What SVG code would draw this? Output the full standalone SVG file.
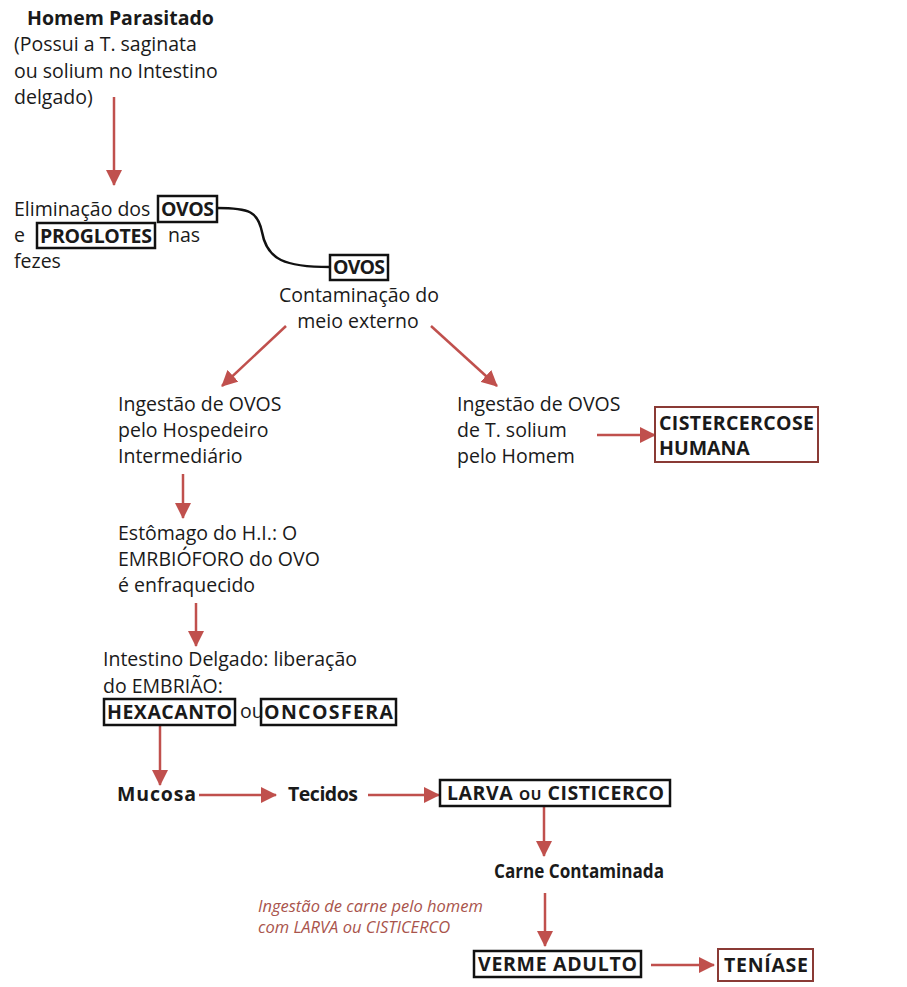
<svg xmlns="http://www.w3.org/2000/svg" width="907" height="987" viewBox="0 0 907 987">
<defs>
<style>
text{font-family:"Open Sans","Liberation Sans",sans-serif;font-size:19.5px;fill:#1a1a1a}
.b{font-weight:bold}
.box{fill:none;stroke:#111;stroke-width:2.5}
.rbox{fill:none;stroke:#8a3a35;stroke-width:2}
.arr{stroke:#c0504d;stroke-width:2.5;fill:none;marker-end:url(#ah)}
.it{font-style:italic;fill:#a9544c;font-size:16.5px}
</style>
<marker id="ah" markerUnits="userSpaceOnUse" markerWidth="16" markerHeight="16" viewBox="0 0 16 16" refX="15" refY="8" orient="auto">
<path d="M0,0 L16,8 L0,16 z" fill="#c0504d"/>
</marker>
</defs>
<rect width="907" height="987" fill="#ffffff"/>

<g id="connectors">
<line class="arr" x1="114" y1="97" x2="114" y2="185"/>
<path d="M217,208 C250,208 258,212 262,232 C267,260 285,267 330,267" fill="none" stroke="#111" stroke-width="2.5"/>
<line class="arr" x1="286" y1="326" x2="222" y2="386"/>
<line class="arr" x1="431" y1="326" x2="497" y2="386"/>
<line class="arr" x1="597" y1="435" x2="655" y2="435"/>
<line class="arr" x1="183" y1="474" x2="183" y2="518"/>
<line class="arr" x1="196" y1="603" x2="196" y2="646"/>
<line class="arr" x1="160" y1="726" x2="160" y2="785"/>
<line class="arr" x1="199" y1="795" x2="276" y2="795"/>
<line class="arr" x1="368" y1="795" x2="439" y2="795"/>
<line class="arr" x1="544" y1="806" x2="544" y2="856"/>
<line class="arr" x1="545" y1="893" x2="545" y2="946"/>
<line class="arr" x1="651" y1="965" x2="714" y2="965"/>
</g>

<g id="homem">
<text x="27" y="25" class="b" font-size="21">Homem Parasitado</text>
<text x="14" y="51">(Possui a T. saginata</text>
<text x="14" y="78">ou solium no Intestino</text>
<text x="14" y="104">delgado)</text>
</g>

<g id="eliminacao">
<text x="14" y="216">Eliminação dos</text>
<rect class="box" x="158" y="196" width="59" height="26"/>
<text x="161" y="216" class="b" textLength="53">OVOS</text>
<text x="14" y="242">e</text>
<rect class="box" x="37" y="223" width="118" height="25"/>
<text x="40" y="243" class="b" textLength="112">PROGLOTES</text>
<text x="168" y="242">nas</text>
<text x="14" y="268">fezes</text>
</g>

<g id="ovos-meio">
<rect class="box" x="330" y="255" width="58" height="25"/>
<text x="333" y="274" class="b" textLength="52">OVOS</text>
<text x="359" y="302" text-anchor="middle" font-size="18.5" textLength="160">Contaminação do</text>
<text x="358" y="328" text-anchor="middle" font-size="18.5">meio externo</text>
</g>

<g id="ingestao-hi">
<text x="118" y="411">Ingestão de OVOS</text>
<text x="118" y="437">pelo Hospedeiro</text>
<text x="118" y="463">Intermediário</text>
</g>

<g id="ingestao-homem">
<text x="457" y="411">Ingestão de OVOS</text>
<text x="457" y="437">de T. solium</text>
<text x="457" y="463">pelo Homem</text>
</g>

<g id="cistercercose">
<rect class="rbox" x="655" y="407" width="163" height="55"/>
<text x="659" y="430" class="b" textLength="155">CISTERCERCOSE</text>
<text x="659" y="455" class="b">HUMANA</text>
</g>

<g id="estomago">
<text x="118" y="540">Estômago do H.I.: O</text>
<text x="118" y="566">EMRBIÓFORO do OVO</text>
<text x="118" y="592">é enfraquecido</text>
</g>

<g id="intestino">
<text x="103" y="666">Intestino Delgado: liberação</text>
<text x="103" y="693">do EMBRIÃO:</text>
<rect class="box" x="104" y="699" width="131" height="26"/>
<text x="107" y="719" class="b" textLength="125">HEXACANTO</text>
<text x="240" y="718" font-size="17">ou</text>
<rect class="box" x="261" y="699" width="135" height="26"/>
<text x="264" y="719" class="b" textLength="129">ONCOSFERA</text>
</g>

<g id="mucosa">
<text x="117" y="801" class="b" textLength="79">Mucosa</text>
</g>

<g id="tecidos">
<text x="288" y="801" class="b" textLength="70">Tecidos</text>
</g>

<g id="larva">
<rect class="box" x="440" y="780" width="230" height="26"/>
<text x="447" y="800" class="b" textLength="217">LARVA <tspan font-size="14">OU</tspan>  CISTICERCO</text>
</g>

<g id="carne">
<text x="494" y="878" class="b" font-size="17" textLength="170" lengthAdjust="spacingAndGlyphs">Carne Contaminada</text>
</g>

<g id="label-ingestao-carne">
<text x="258" y="912" class="it">Ingestão de carne pelo homem</text>
<text x="258" y="933" class="it">com LARVA ou CISTICERCO</text>
</g>

<g id="verme">
<rect class="box" x="474" y="951" width="167" height="26"/>
<text x="478" y="971" class="b" textLength="159">VERME ADULTO</text>
</g>

<g id="teniase">
<rect class="rbox" x="718" y="949" width="95" height="32"/>
<text x="724" y="972" class="b" textLength="84">TENÍASE</text>
</g>
</svg>
